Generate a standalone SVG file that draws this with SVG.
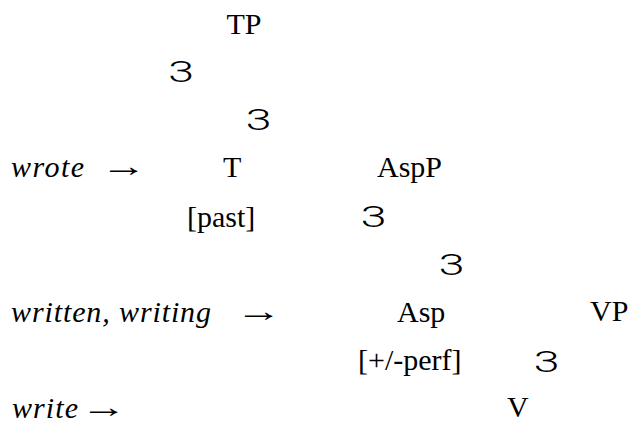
<svg xmlns="http://www.w3.org/2000/svg" width="635" height="427" viewBox="0 0 635 427">
<style>
.t{font-family:"Liberation Serif","Times New Roman",serif;font-size:30px;fill:#000}
.i{font-style:italic}
.a{font-family:"Liberation Sans",Arial,sans-serif;font-size:30px;fill:#000}
.b{font-family:Roboto,"Liberation Sans",sans-serif;font-weight:300;font-size:29px;fill:#000;text-anchor:middle}
</style>
<rect width="635" height="427" fill="#fff"/>
<g id="TP"><text class="t" x="226.5" y="34">TP</text></g>
<g id="T"><text class="t" x="223" y="177">T</text><text class="t" x="187" y="227">[past]</text></g>
<g id="AspP"><text class="t" x="377" y="177">AspP</text></g>
<g id="Asp"><text class="t" x="397" y="322">Asp</text><text class="t" x="358" y="370">[+/-perf]</text></g>
<g id="VP"><text class="t" x="590" y="321">VP</text></g>
<g id="V"><text class="t" x="507" y="417">V</text></g>
<g id="wrote"><text class="t i" x="11" y="177" textLength="73">wrote</text><text class="a" transform="translate(100.5,176) scale(1.55,1)">→</text></g>
<g id="written"><text class="t i" x="11" y="322" textLength="200">written, writing</text><text class="a" transform="translate(235.5,321) scale(1.55,1)">→</text></g>
<g id="write"><text class="t i" x="12" y="418" textLength="66">write</text><text class="a" transform="translate(80.5,417) scale(1.55,1)">→</text></g>
<g id="connectors">
<text class="b" transform="translate(181,82) scale(1.6,1)">3</text>
<text class="b" transform="translate(258.5,130) scale(1.6,1)">3</text>
<text class="b" transform="translate(373.5,227) scale(1.6,1)">3</text>
<text class="b" transform="translate(451.5,275) scale(1.6,1)">3</text>
<text class="b" transform="translate(546.5,372) scale(1.6,1)">3</text>
</g>
</svg>
